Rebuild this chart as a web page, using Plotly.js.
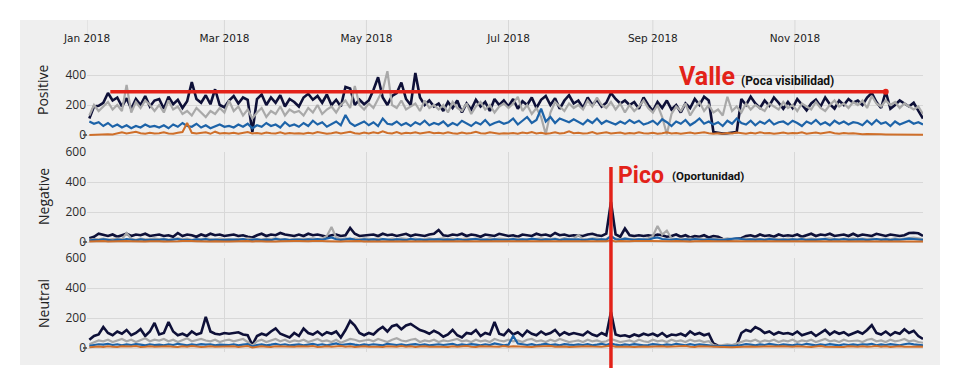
<!DOCTYPE html>
<html><head><meta charset="utf-8">
<script src="https://cdn.plot.ly/plotly-3.0.1.min.js"></script>
<style>html,body{margin:0;padding:0;background:#fff}#chart{width:960px;height:385px}</style>
</head><body><div id="chart"></div>
<script>
// x values: every 2nd day from 2018-01-02
const startDay = [2018, 0, 2];
const stepDays = 2;
const nPoints = 180;
const dates = [];
for (let i = 0; i < nPoints; i++) {
  dates.push(new Date(Date.UTC(startDay[0], startDay[1], startDay[2] + stepDays * i)).toISOString().slice(0, 10));
}
const tickDates = ['2018-01-01', '2018-03-01', '2018-05-01', '2018-07-01', '2018-09-01', '2018-11-01'];
const tickLabels = ['Jan 2018', 'Mar 2018', 'May 2018', 'Jul 2018', 'Sep 2018', 'Nov 2018'];

const posNavy = [
110,190,195,215,280,230,250,190,245,175,240,200,260,190,230,
240,175,255,205,235,180,225,353,240,215,265,205,305,200,185,
230,260,210,250,235,20,240,270,200,250,215,265,190,240,220,
190,250,275,235,260,215,270,200,235,190,320,310,200,235,205,
230,300,385,250,200,260,280,350,240,200,413,250,200,230,190,
210,160,220,180,230,150,210,170,235,190,220,160,240,200,230,
190,240,175,225,200,250,180,235,260,200,245,175,230,265,210,
230,180,250,200,235,190,215,280,240,210,230,200,220,175,250,
200,160,220,180,230,170,200,150,210,180,240,200,255,230,20,
15,10,12,15,20,240,200,255,210,180,230,195,250,215,175,
220,180,240,200,165,210,235,190,250,205,175,230,200,240,215,
230,200,250,280,220,180,290,175,200,230,210,190,215,160,110];
const posGray = [
130,200,160,190,220,170,200,160,333,150,220,180,230,200,160,
200,150,230,170,190,140,160,130,180,150,120,160,140,180,150,
230,160,190,130,170,110,150,180,120,160,140,190,130,170,150,
160,130,180,150,200,140,170,190,150,200,230,180,327,200,170,
210,180,240,300,425,200,180,230,170,190,210,160,230,180,200,
170,200,150,220,180,160,210,140,190,220,170,200,150,190,210,
180,210,255,160,200,140,180,120,5,150,220,190,160,210,180,
200,170,230,190,250,200,180,220,170,210,150,200,160,190,230,
180,150,200,120,5,140,190,160,210,130,180,220,160,200,150,
170,130,255,160,190,150,210,170,200,180,160,210,190,170,220,
180,200,160,210,190,170,220,180,160,200,230,190,210,180,220,
200,230,180,260,210,190,230,200,220,180,210,190,170,190,140];
const posBlue = [
90,75,85,60,80,55,70,50,65,45,60,50,70,55,60,
50,65,45,70,55,80,60,55,75,50,65,45,60,70,55,
60,50,70,55,75,45,65,55,80,60,70,50,85,60,70,
55,80,60,95,70,85,55,75,90,65,133,80,60,75,90,
65,85,60,110,75,70,90,65,80,60,85,70,95,65,80,
70,90,60,80,65,95,75,60,85,70,100,65,80,90,75,
85,110,70,95,120,80,100,175,90,120,80,110,95,85,105,
90,70,100,80,110,75,95,85,70,90,75,100,80,95,70,
80,95,70,105,85,60,90,75,100,65,85,110,75,90,70,
85,60,95,75,110,80,70,95,65,90,75,100,70,85,90,
70,95,80,60,90,75,100,70,85,65,95,75,90,70,85,
80,65,95,70,100,75,85,60,90,70,80,95,75,85,70];
const posOrange = [
0,2,3,2,5,4,12,18,10,15,22,12,8,15,10,
12,18,10,8,15,20,80,15,10,12,18,8,22,10,14,
10,15,8,12,20,10,14,8,16,12,10,18,8,14,10,
12,8,15,10,20,14,8,12,18,10,15,22,12,8,16,
10,18,12,25,14,10,20,8,15,12,18,10,14,20,12,
15,10,18,12,8,16,10,14,22,12,10,18,14,8,12,
10,14,8,16,12,20,10,15,8,12,18,10,14,25,12,
15,10,12,20,8,14,18,10,12,16,8,14,10,18,12,
10,15,8,12,18,10,14,8,12,16,10,14,18,12,8,
12,8,14,10,16,12,8,15,10,18,12,14,8,12,16,
10,14,12,18,8,12,16,10,14,20,12,8,14,10,12,
8,5,6,4,3,5,4,3,2,4,3,2,3,2,1];

const negNavy = [
25,35,55,45,40,50,35,45,55,40,50,45,55,40,45,
50,40,45,35,60,40,50,45,35,50,40,55,45,50,40,
45,50,40,45,35,30,45,55,40,50,45,60,50,45,40,
50,40,55,45,50,40,35,45,50,40,45,93,55,40,45,
45,50,40,55,45,50,40,45,55,40,50,45,40,50,55,
80,45,40,50,45,55,40,50,45,35,50,45,40,55,45,
40,45,35,50,45,40,55,45,50,40,60,45,50,40,45,
45,40,50,55,45,40,55,267,50,35,90,45,40,45,40,
45,40,50,45,35,40,50,35,45,30,40,35,45,30,40,
35,20,15,18,20,25,40,45,35,50,40,45,35,50,40,
45,40,50,35,45,55,40,50,45,55,40,45,50,40,55,
40,50,45,40,55,45,40,50,45,40,45,60,62,58,40];
const negGray = [
15,20,18,22,15,20,25,18,60,22,15,22,18,20,25,
18,22,15,20,25,18,22,15,20,18,25,20,15,22,18,
20,15,22,18,25,20,15,18,22,20,25,18,20,15,22,
18,22,20,25,18,22,40,100,30,20,25,18,22,20,25,
22,18,25,20,15,22,18,25,20,18,22,15,20,25,18,
20,25,18,22,15,20,25,18,22,20,15,25,18,22,20,
18,22,25,15,20,18,22,25,18,20,22,15,25,18,22,
45,20,18,25,22,18,20,35,22,18,25,20,22,18,20,
25,40,107,50,75,25,18,22,20,25,18,22,20,18,22,
20,18,25,22,15,20,25,18,22,20,18,25,22,20,18,
22,20,18,25,20,22,18,15,22,25,20,18,22,20,25,
18,22,20,25,18,20,22,18,25,20,22,28,30,25,20];
const negBlue = [
10,15,12,18,14,10,16,12,20,14,11,17,13,15,12,
14,18,12,16,20,13,15,11,17,14,19,12,16,13,15,
12,16,14,19,11,15,18,13,16,12,20,14,17,13,15,
16,12,18,14,20,15,25,30,18,14,17,22,15,13,18,
14,17,12,19,15,13,18,16,12,20,14,17,13,16,19,
18,14,16,12,19,15,13,17,20,14,16,12,18,15,13,
15,19,13,17,14,22,16,12,18,15,20,13,17,14,16,
17,13,16,20,14,18,15,40,18,14,22,16,13,17,15,
14,25,30,20,18,15,19,13,17,14,20,16,12,18,15,
16,12,18,22,25,20,15,18,14,17,13,19,15,12,16,
13,17,15,19,12,16,14,18,20,13,17,15,19,14,16,
15,18,13,16,20,14,17,12,18,15,19,22,20,18,14];
const negOrange = [
3,5,4,6,3,5,7,4,6,5,3,6,4,5,7,
5,4,6,3,5,7,4,6,5,3,6,4,5,7,4,
4,6,3,5,7,4,6,5,3,6,4,5,7,4,6,
6,3,5,7,4,6,5,3,6,4,5,7,4,6,3,
3,5,7,4,6,5,3,6,4,5,7,4,6,3,5,
5,7,4,6,5,3,6,4,5,7,4,6,3,5,7,
7,4,6,5,3,6,4,5,7,4,6,3,5,7,4,
4,6,5,3,6,4,5,12,4,6,3,5,7,4,6,
6,5,3,6,4,5,7,4,6,3,5,7,4,6,5,
5,3,6,4,5,7,4,6,3,5,7,4,6,5,3,
3,6,4,5,7,4,6,3,5,7,4,6,5,3,6,
6,4,5,7,4,6,3,5,7,4,6,5,3,6,4];

const neuNavy = [
55,80,90,140,100,85,110,95,120,85,100,125,80,110,167,
90,100,173,110,85,95,80,110,90,100,207,110,95,90,100,
95,100,105,90,85,20,80,95,85,110,130,95,85,70,100,
80,130,100,90,110,85,105,95,110,70,120,180,150,100,85,
100,90,120,140,110,145,155,125,150,160,140,120,110,95,115,
100,75,90,120,85,70,100,95,120,80,100,90,173,95,85,
120,90,105,80,115,95,85,110,90,100,120,85,105,90,100,
95,85,110,90,80,100,85,240,90,80,85,75,90,80,95,
85,95,80,100,75,90,85,95,80,110,90,100,85,95,30,
15,10,12,15,20,100,120,110,140,125,100,110,90,105,95,
100,90,110,85,95,105,80,100,120,90,110,95,105,85,100,
110,95,120,153,100,90,110,85,105,95,125,100,115,80,60];
const neuGray = [
25,40,50,45,55,40,50,60,45,55,40,50,65,45,55,
50,60,45,55,40,50,65,45,55,60,50,45,55,40,50,
55,45,50,60,40,15,45,55,40,50,60,45,55,40,50,
45,55,40,50,60,45,50,40,55,35,50,60,55,45,50,
55,45,60,50,40,55,65,50,45,55,60,40,50,45,55,
40,50,45,55,60,45,50,40,55,45,50,40,60,50,45,
55,45,50,40,55,60,45,50,40,55,45,60,50,40,45,
50,40,55,45,50,40,45,60,50,40,45,50,40,55,45,
40,55,45,50,40,55,45,50,40,55,45,50,40,45,20,
15,20,25,20,30,40,50,45,55,40,50,45,55,40,50,
45,55,40,50,45,55,40,50,60,45,50,40,55,45,50,
50,40,55,60,45,50,40,55,45,50,60,45,50,40,35];
const neuBlue = [
15,20,25,22,28,20,25,18,24,20,26,22,18,25,20,
22,18,25,20,28,22,18,24,20,26,22,25,18,22,20,
20,25,18,22,26,10,20,24,18,22,28,20,25,18,22,
24,18,22,28,20,25,18,22,30,20,25,28,22,18,24,
20,25,22,18,28,24,20,25,18,22,26,20,24,18,22,
25,20,22,28,18,24,20,26,22,18,25,20,30,22,18,
22,80,30,24,20,26,18,22,28,20,24,18,26,22,20,
24,20,26,18,22,28,20,30,22,18,24,20,26,22,18,
20,26,22,18,24,20,28,22,18,26,20,24,22,18,12,
10,12,15,12,14,20,26,22,18,24,20,28,22,18,24,
22,18,25,20,28,22,18,24,20,26,22,18,25,20,24,
20,25,22,28,18,24,20,26,22,18,25,30,24,20,18];
const neuOrange = [
5,8,10,7,12,9,6,11,8,10,13,7,9,12,8,
10,7,12,9,6,11,8,14,10,7,9,12,8,10,7,
9,12,7,10,13,4,8,11,9,7,12,10,8,11,9,
11,8,10,13,7,9,12,8,10,14,9,11,7,10,12,
8,11,9,7,12,10,8,13,9,11,7,10,12,8,10,
12,9,7,11,8,10,13,9,7,12,10,8,11,9,13,
9,12,10,8,11,7,10,12,9,13,8,11,10,7,9,
11,8,12,10,7,9,11,15,8,10,12,9,7,11,10,
8,10,7,12,9,11,8,10,13,9,7,11,10,8,5,
4,5,6,5,7,9,12,10,8,11,9,12,10,8,11,
10,8,12,9,11,7,10,13,9,8,12,10,7,11,9,
9,12,8,10,13,9,11,7,10,12,8,11,9,10,8];

// annotation markers
const valleLevel = 289;
const valleStart = '2018-01-11';
const valleEnd = '2018-12-10';
const picoDate = '2018-08-14';

const colors = {navy:'#0e1038', gray:'#a9a9a9', blue:'#1d63a8', orange:'#cf6f2a'};
const series = [
  {y: posNavy, c: colors.navy, w: 2.6, ax: 'y'},
  {y: posGray, c: colors.gray, w: 2.2, ax: 'y'},
  {y: posBlue, c: colors.blue, w: 2.2, ax: 'y'},
  {y: posOrange, c: colors.orange, w: 2, ax: 'y'},
  {y: negNavy, c: colors.navy, w: 2.6, ax: 'y2'},
  {y: negGray, c: colors.gray, w: 2.2, ax: 'y2'},
  {y: negBlue, c: colors.blue, w: 2.2, ax: 'y2'},
  {y: negOrange, c: colors.orange, w: 2, ax: 'y2'},
  {y: neuNavy, c: colors.navy, w: 2.6, ax: 'y3'},
  {y: neuGray, c: colors.gray, w: 2.2, ax: 'y3'},
  {y: neuBlue, c: colors.blue, w: 2.2, ax: 'y3'},
  {y: neuOrange, c: colors.orange, w: 2, ax: 'y3'}
];
const traces = series.map(s => ({
  type: 'scatter', mode: 'lines', x: dates, y: s.y, xaxis: 'x', yaxis: s.ax,
  line: {color: s.c, width: s.w}, hoverinfo: 'skip'
}));
// small end marker on the "Valle" line
traces.push({type: 'scatter', mode: 'markers', x: [valleEnd], y: [valleLevel], xaxis: 'x', yaxis: 'y',
  marker: {color: '#e32219', size: 6}, hoverinfo: 'skip'});

const ML = 87, MT = 45, PW = 836, PH = 307;
const px = v => (v - ML) / PW;
const py = v => (MT + PH - v) / PH;
const red = '#e32219';
const gridc = '#d8d8d8';
const yCommon = {
  showgrid: true, gridcolor: gridc, gridwidth: 1, zeroline: false, showline: false,
  ticks: '', tickfont: {family: 'Open Sans, sans-serif', size: 12, color: '#2a2a2a'}, fixedrange: true
};

const shapes = [
  {type: 'rect', xref: 'paper', yref: 'paper', x0: px(20), x1: px(940), y0: py(365), y1: py(20),
   fillcolor: '#efefef', line: {width: 0}, layer: 'below'}
];
// extend the vertical grid lines up behind the date labels
tickDates.forEach(d => shapes.push({type: 'line', xref: 'x', yref: 'paper', x0: d, x1: d, y0: 1, y1: py(20),
  line: {color: gridc, width: 1}, layer: 'below'}));
['y', 'y2', 'y3'].forEach(a => shapes.push({type: 'line', xref: 'paper', yref: a, x0: px(83), x1: 0, y0: 0, y1: 0,
  line: {color: '#444', width: 1.5}}));
shapes.push({type: 'line', xref: 'x', yref: 'y', x0: valleStart, x1: valleEnd, y0: valleLevel, y1: valleLevel,
  line: {color: red, width: 3.5}});
shapes.push({type: 'line', xref: 'x', yref: 'paper', x0: picoDate, x1: picoDate, y0: py(368), y1: py(167),
  line: {color: red, width: 3.5}});

const layout = {
  width: 960, height: 385,
  margin: {l: ML, r: 960 - ML - PW, t: MT, b: 385 - MT - PH},
  paper_bgcolor: '#ffffff', plot_bgcolor: 'rgba(0,0,0,0)', showlegend: false,
  xaxis: {
    type: 'date', range: ['2018-01-01', '2018-12-26'], anchor: 'y', side: 'top',
    tickvals: tickDates, ticktext: tickLabels, ticks: '',
    showgrid: true, gridcolor: gridc, zeroline: false, showline: false,
    tickfont: {family: 'DejaVu Sans, Verdana, sans-serif', size: 10.5, color: '#222'}
  },
  yaxis: Object.assign({}, yCommon, {domain: [py(139), 1], range: [-26.7, 600], tickvals: [0, 200, 400]}),
  yaxis2: Object.assign({}, yCommon, {domain: [py(246), py(152)], range: [-26.7, 600], tickvals: [0, 200, 400, 600]}),
  yaxis3: Object.assign({}, yCommon, {domain: [0, py(258)], range: [-26.7, 600], tickvals: [0, 200, 400, 600]}),
  shapes: shapes,
  annotations: [
    {xref: 'paper', yref: 'paper', x: px(43), y: py(90), text: 'Positive', showarrow: false, textangle: -90,
     font: {family: 'Open Sans, sans-serif', size: 14, color: '#222'}, xanchor: 'center', yanchor: 'middle'},
    {xref: 'paper', yref: 'paper', x: px(43), y: py(197), text: 'Negative', showarrow: false, textangle: -90,
     font: {family: 'Open Sans, sans-serif', size: 14, color: '#222'}, xanchor: 'center', yanchor: 'middle'},
    {xref: 'paper', yref: 'paper', x: px(43), y: py(304), text: 'Neutral', showarrow: false, textangle: -90,
     font: {family: 'Open Sans, sans-serif', size: 14, color: '#222'}, xanchor: 'center', yanchor: 'middle'},
    {xref: 'paper', yref: 'paper', x: px(677), y: py(76), text: '<b>Valle</b>', showarrow: false,
     font: {family: 'Roboto, sans-serif', size: 25, color: red}, xanchor: 'left', yanchor: 'middle'},
    {xref: 'paper', yref: 'paper', x: px(739), y: py(81), text: '<b>(Poca visibilidad)</b>', showarrow: false,
     font: {family: 'Roboto, sans-serif', size: 12, color: '#111'}, xanchor: 'left', yanchor: 'middle'},
    {xref: 'paper', yref: 'paper', x: px(616), y: py(175), text: '<b>Pico</b>', showarrow: false,
     font: {family: 'Roboto, sans-serif', size: 23, color: red}, xanchor: 'left', yanchor: 'middle'},
    {xref: 'paper', yref: 'paper', x: px(670), y: py(176), text: '<b>(Oportunidad)</b>', showarrow: false,
     font: {family: 'Roboto, sans-serif', size: 11.5, color: '#111'}, xanchor: 'left', yanchor: 'middle'}
  ]
};

Plotly.newPlot('chart', traces, layout, {staticPlot: true, displayModeBar: false});
</script>
</body></html>
